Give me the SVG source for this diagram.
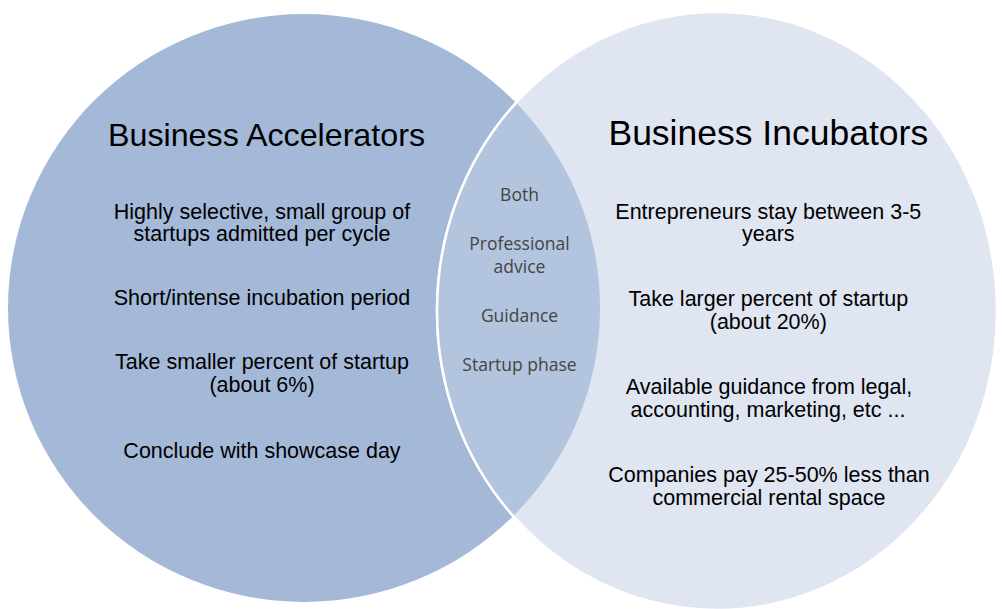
<svg xmlns="http://www.w3.org/2000/svg" width="1002" height="609" viewBox="0 0 1002 609">
<style>
.t{font-family:"Liberation Sans",Arial,sans-serif;fill:#000;text-anchor:middle}
.title{font-size:32px}
.body{font-size:21.5px}
.mid{font-family:"Open Sans","Noto Sans",sans-serif;font-size:17.5px;fill:#444;text-anchor:middle}
</style>
<defs>
<clipPath id="clipLeft"><ellipse cx="304" cy="308" rx="296" ry="294"/></clipPath>
</defs>
<rect x="0" y="0" width="1002" height="609" fill="#fff"/>
<g id="accelerators">
<ellipse cx="304" cy="308" rx="296" ry="294" fill="#a4b9d8"/>
</g>
<g id="incubators">
<ellipse cx="717" cy="311" rx="280" ry="299" fill="#dfe5f1" stroke="#fff" stroke-width="2.5"/>
</g>
<g id="overlap">
<ellipse cx="717" cy="311" rx="280" ry="299" fill="#b3c4df" clip-path="url(#clipLeft)"/>
<ellipse cx="717" cy="311" rx="280" ry="299" fill="none" stroke="#fff" stroke-width="2.5" clip-path="url(#clipLeft)"/>
</g>
<g id="accelerators-text">
<text class="t title" x="266.5" y="146" textLength="317" lengthAdjust="spacingAndGlyphs">Business Accelerators</text>
<text class="t body" x="262" y="218.5">Highly selective, small group of<tspan x="262" dy="22.5">startups admitted per cycle</tspan></text>
<text class="t body" x="262" y="305">Short/intense incubation period</text>
<text class="t body" x="262" y="369">Take smaller percent of startup<tspan x="262" dy="22.5">(about 6%)</tspan></text>
<text class="t body" x="262" y="458">Conclude with showcase day</text>
</g>
<g id="incubators-text">
<text class="t" style="font-size:35.5px" x="768.3" y="145">Business Incubators</text>
<text class="t body" x="768.3" y="218.5">Entrepreneurs stay between 3-5<tspan x="768.3" dy="22.5">years</tspan></text>
<text class="t body" x="768.3" y="306">Take larger percent of startup<tspan x="768.3" dy="22.5">(about 20%)</tspan></text>
<text class="t body" x="769" y="394">Available guidance from legal,<tspan x="768" dy="23">accounting, marketing, etc ...</tspan></text>
<text class="t body" x="769" y="482">Companies pay 25-50% less than<tspan x="769" dy="22.5">commercial rental space</tspan></text>
</g>
<g id="both-text">
<text class="mid" x="519.5" y="201">Both</text>
<text class="mid" x="519.5" y="250">Professional<tspan x="519.5" dy="23">advice</tspan></text>
<text class="mid" x="519.5" y="322">Guidance</text>
<text class="mid" x="519.5" y="371">Startup phase</text>
</g>
</svg>
